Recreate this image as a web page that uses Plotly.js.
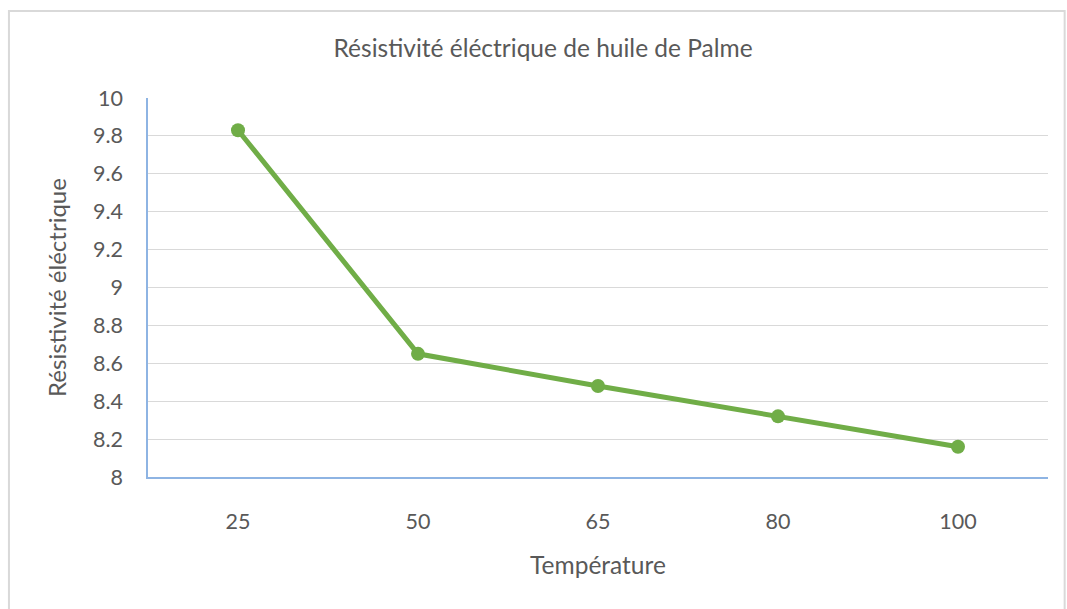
<!DOCTYPE html>
<html>
<head>
<meta charset="utf-8">
<script src="https://cdn.plot.ly/plotly-3.0.1.min.js"></script>
<style>html,body{margin:0;padding:0;background:#fff}#chart{width:1067px;height:609px}</style>
</head>
<body>
<div id="chart"></div>
<script>
const categories = ["25", "50", "65", "80", "100"];
const resistivity = [9.83, 8.65, 8.48, 8.32, 8.16];
const yTickVals = [8, 8.2, 8.4, 8.6, 8.8, 9, 9.2, 9.4, 9.6, 9.8, 10];
const yTickText = ["8", "8.2", "8.4", "8.6", "8.8", "9", "9.2", "9.4", "9.6", "9.8", "10"];

const FONT = "Lato, 'Open Sans', sans-serif";
const TXT = "#595959";

const trace = {
  type: "scatter",
  mode: "lines+markers",
  x: categories,
  y: resistivity,
  line: {color: "#70ad47", width: 5},
  marker: {color: "#70ad47", size: 14},
  hoverinfo: "x+y"
};

const layout = {
  width: 1067,
  height: 609,
  margin: {l: 148, r: 19, t: 98, b: 132},
  paper_bgcolor: "#ffffff",
  plot_bgcolor: "#ffffff",
  showlegend: false,
  font: {family: FONT, color: TXT},
  title: {
    text: "Résistivité éléctrique de huile de Palme",
    font: {family: FONT, size: 24.5, color: TXT},
    x: 0.509, xanchor: "center",
    y: 0.92, yanchor: "middle"
  },
  xaxis: {
    type: "category",
    range: [-0.5, 4.5],
    showgrid: false,
    zeroline: false,
    showline: true,
    linecolor: "#8eb4e3",
    linewidth: 1.5,
    ticks: "outside",
    ticklen: 24,
    tickcolor: "rgba(0,0,0,0)",
    tickfont: {family: FONT, size: 21.5, color: TXT},
    title: {text: "Température", font: {family: FONT, size: 24.5, color: TXT}, standoff: 24},
    fixedrange: true
  },
  yaxis: {
    range: [8, 10],
    tickvals: yTickVals,
    ticktext: yTickText,
    showgrid: true,
    gridcolor: "#d9d9d9",
    gridwidth: 1,
    zeroline: false,
    showline: true,
    linecolor: "#8eb4e3",
    linewidth: 1.5,
    ticks: "outside",
    ticklen: 19,
    tickcolor: "rgba(0,0,0,0)",
    tickfont: {family: FONT, size: 21.5, color: TXT},
    title: {text: "Résistivité éléctrique", font: {family: FONT, size: 24, color: TXT}, standoff: 20},
    fixedrange: true
  },
  shapes: [{
    type: "rect",
    xref: "paper", yref: "paper",
    x0: -0.1545, x1: 1.0185,
    y0: -0.37, y1: 1.2295,
    line: {color: "#d9d9d9", width: 2},
    fillcolor: "rgba(0,0,0,0)",
    layer: "below"
  }]
};

Plotly.newPlot("chart", [trace], layout, {displayModeBar: false});
</script>
</body>
</html>
